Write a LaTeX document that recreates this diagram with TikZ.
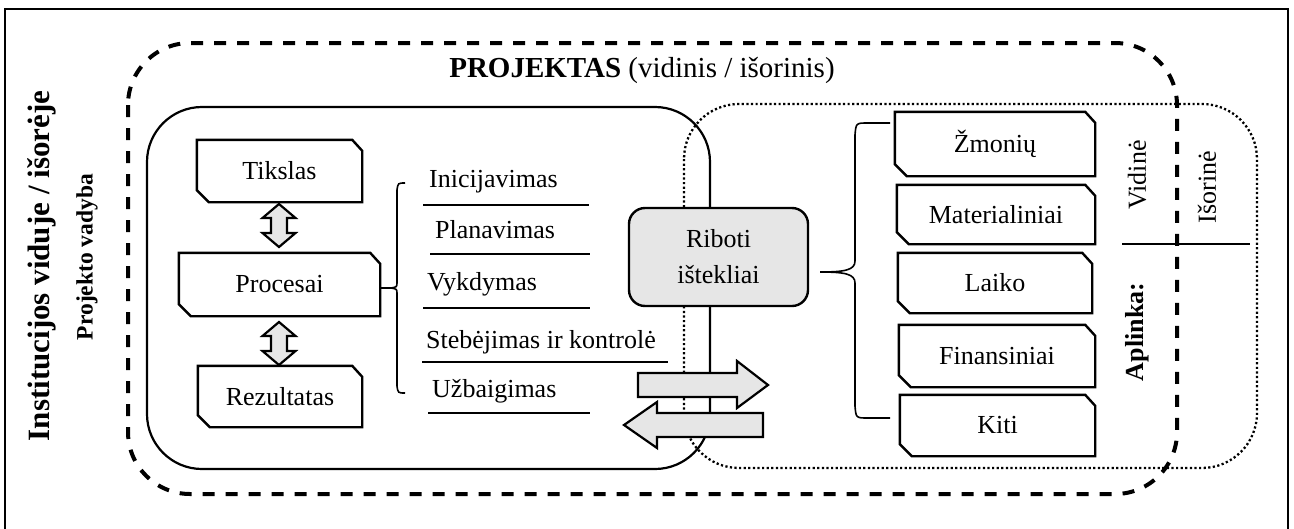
\documentclass[tikz,border=0pt]{standalone}
\usepackage{fontspec}
\setmainfont{Liberation Serif}
\definecolor{lightfill}{HTML}{E6E6E6}
% chamfered tab outline around a named node (top-right and bottom-left corners cut)
\newcommand\tabshape[1]{%
  \draw[boxline] (#1.north west) -- ([xshift=-10pt]#1.north east)
    -- ([yshift=-11pt]#1.north east) -- (#1.south east)
    -- ([xshift=12pt]#1.south west) -- ([yshift=12pt]#1.south west) -- cycle;}
% vertical two-headed block arrow: x, top y, bottom y
\newcommand\vdarrow[3]{%
  \draw[blockarrow] (#1,#2) -- (#1+16.5,#2+14) -- (#1+8,#2+14) -- (#1+8,#3-14)
    -- (#1+16.5,#3-14) -- (#1,#3) -- (#1-16.5,#3-14) -- (#1-8,#3-14)
    -- (#1-8,#2+14) -- (#1-16.5,#2+14) -- cycle;}
\begin{document}
\begin{tikzpicture}[x=1pt,y=-1pt,
  txt/.style={font=\fontsize{26}{31}\selectfont, inner sep=0pt},
  boldtxt/.style={font=\fontsize{26}{31}\selectfont\bfseries, inner sep=0pt},
  boxline/.style={line width=2.4pt, line join=miter},
  tabnode/.style={txt, draw=none},
  blockarrow/.style={line width=2.2pt, fill=lightfill, line join=miter},
  dashedframe/.style={line width=4pt, dash pattern=on 12pt off 11pt, rounded corners=62pt},
  dottedframe/.style={line width=2.3pt, dash pattern=on 2.2pt off 2.4pt, rounded corners=55pt},
  solidframe/.style={line width=2.2pt, rounded corners=55pt},
  underline/.style={line width=2pt},
  bracepath/.style={line width=1.6pt}]
\useasboundingbox (0,0) rectangle (1294,528);

% outer frame (continues below the visible area)
\draw[line width=2.7pt] (5,560) -- (5,9) -- (1288,9) -- (1288,560);

% project boundary, process block and resource block
\draw[dashedframe] (128,43) rectangle (1177,494);
\draw[solidframe] (147,107) rectangle (710,469);
\draw[dottedframe] (684,104) rectangle (1257,468);

% side titles
\node[font=\fontsize{31}{36}\selectfont\bfseries, rotate=90] (inst) at (42,266) {Institucijos viduje / išorėje};
\node[font=\fontsize{23.5}{28}\selectfont\bfseries, rotate=90] (pv) at (87,257) {Projekto vadyba};
\node[font=\fontsize{29}{34}\selectfont] (title) at (642,70) {\textbf{PROJEKTAS} (vidinis / išorinis)};

% goal / processes / result
\node[tabnode, minimum width=165pt, minimum height=62pt] (tikslas) at (279.5,171) {Tikslas};
\node[tabnode, minimum width=201pt, minimum height=63pt] (procesai) at (279.5,284.5) {Procesai};
\node[tabnode, minimum width=164pt, minimum height=61pt] (rezultatas) at (280,396.5) {Rezultatas};
\tabshape{tikslas}
\tabshape{procesai}
\tabshape{rezultatas}
\vdarrow{279}{204}{247}
\vdarrow{279}{322}{365}

% process phases
\node[txt, anchor=base west] (p1) at (429,187) {Inicijavimas};
\node[txt, anchor=base west] (p2) at (435,238) {Planavimas};
\node[txt, anchor=base west] (p3) at (427,290) {Vykdymas};
\node[txt, anchor=base west] (p4) at (426,348) {Stebėjimas ir kontrolė};
\node[txt, anchor=base west] (p5) at (432,397) {Užbaigimas};
\draw[underline] (423,205) -- (589,205);
\draw[underline] (430,254) -- (590,254);
\draw[underline] (423,308) -- (590,308);
\draw[underline] (422,362) -- (668,362);
\draw[underline] (428,413) -- (590,413);

% bracket grouping the phases
\coordinate (ltip) at (391,288);
\draw[bracepath] (ltip) -- (ltip -| procesai.east);
\draw[bracepath] (405,183) .. controls (398,183) .. (397,190) -- (397,282)
  .. controls (397,287) .. (ltip) .. controls (397,289) .. (397,294)
  -- (397,386) .. controls (398,393) .. (405,393);

% limited resources
\node[txt, font=\fontsize{26}{36}\selectfont, align=center, draw, line width=2.4pt,
  fill=lightfill, rounded corners=16pt, minimum width=179pt, minimum height=98pt]
  (riboti) at (718.5,257) {Riboti\\ištekliai};

% exchange arrows
\draw[blockarrow] (638,373) -- (737,373) -- (737,361) -- (768,385) -- (737,408)
  -- (737,397) -- (638,397) -- cycle;
\draw[blockarrow] (763,413) -- (657,413) -- (657,402) -- (624,425) -- (657,448)
  -- (657,437) -- (763,437) -- cycle;

% resource kinds
\node[tabnode, minimum width=200pt, minimum height=64pt] (zmoniu) at (995,144) {Žmonių};
\node[tabnode, minimum width=198pt, minimum height=59pt] (mat) at (996,214.5) {Materialiniai};
\node[tabnode, minimum width=194pt, minimum height=60pt] (laiko) at (995,283) {Laiko};
\node[tabnode, minimum width=196pt, minimum height=62pt] (fin) at (997,356) {Finansiniai};
\node[tabnode, minimum width=195pt, minimum height=61pt] (kiti) at (997.5,425.5) {Kiti};
\tabshape{zmoniu}
\tabshape{mat}
\tabshape{laiko}
\tabshape{fin}
\tabshape{kiti}

% brace grouping the resource kinds
\coordinate (rtip) at (820,272);
\draw[bracepath] (890,123) -- (868,123) .. controls (856,123) .. (855,135) -- (855,261)
  .. controls (855,270) and (845,272) .. (rtip)
  .. controls (845,272) and (855,274) .. (855,283) -- (855,406)
  .. controls (856,418) .. (868,418) -- (890,418);

% environment labels
\node[txt, rotate=90] (vidine) at (1137,175) {Vidinė};
\node[txt, rotate=90] (isorine) at (1207,187) {Išorinė};
\node[boldtxt, rotate=90] (aplinka) at (1137,332) {Aplinka:};
\draw[underline] (1122,244) -- (1250,244);
\end{tikzpicture}
\end{document}
